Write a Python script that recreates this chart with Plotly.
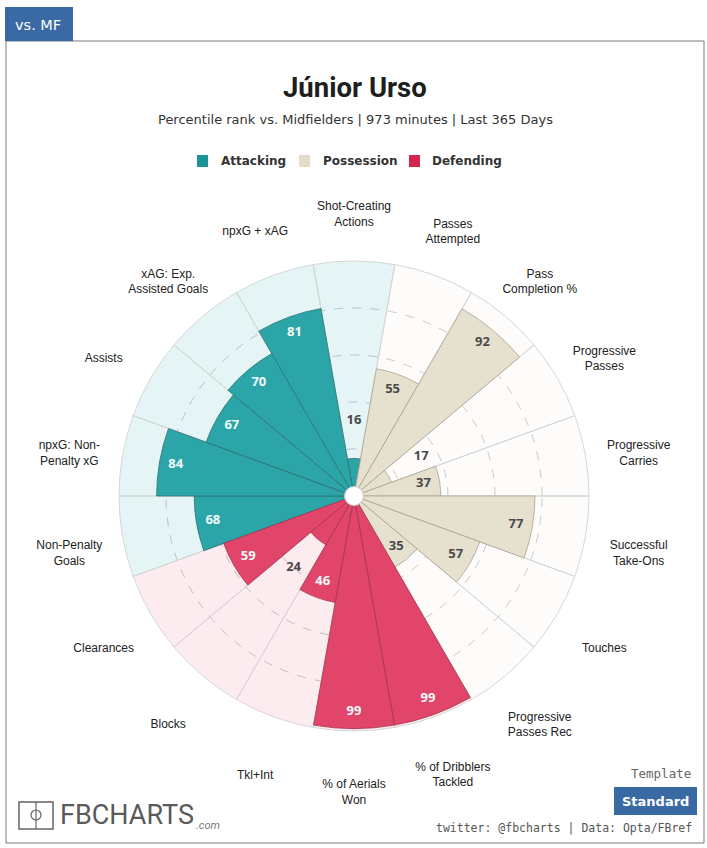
import plotly.graph_objects as go

# ---------------- data ----------------
categories = [
    "Shot-Creating Actions", "Passes Attempted", "Pass Completion %",
    "Progressive Passes", "Progressive Carries", "Successful Take-Ons",
    "Touches", "Progressive Passes Rec", "% of Dribblers Tackled",
    "% of Aerials Won", "Tkl+Int", "Blocks", "Clearances",
    "Non-Penalty Goals", "npxG: Non-Penalty xG", "Assists",
    "xAG: Exp. Assisted Goals", "npxG + xAG",
]
axis_labels = [
    "Shot-Creating<br>Actions", "Passes<br>Attempted", "Pass<br>Completion %",
    "Progressive<br>Passes", "Progressive<br>Carries", "Successful<br>Take-Ons",
    "Touches", "Progressive<br>Passes Rec", "% of Dribblers<br>Tackled",
    "% of Aerials<br>Won", "Tkl+Int", "Blocks", "Clearances",
    "Non-Penalty<br>Goals", "npxG: Non-<br>Penalty xG", "Assists",
    "xAG: Exp.<br>Assisted Goals", "npxG + xAG",
]
percentiles = [16, 55, 92, 17, 37, 77, 57, 35, 99, 99, 46, 24, 59, 68, 84, 67, 70, 81]
groups = (["Attacking"] + ["Possession"] * 7 + ["Defending"] * 5 + ["Attacking"] * 5)
group_order = ["Attacking", "Possession", "Defending"]

# ---------------- styles ----------------
BAR = {"Attacking": "#2ca5a9", "Possession": "#e6e1cf", "Defending": "#e2456a"}
BG = {"Attacking": "rgba(42,163,167,0.12)", "Possession": "rgba(225,218,196,0.07)",
      "Defending": "rgba(226,69,106,0.11)"}
EDGE = {"Attacking": "#2d7376", "Possession": "#a8a28e", "Defending": "#a8344f"}
LEG = {"Attacking": "#1b9498", "Possession": "#e3dccb", "Defending": "#d6264f"}
BLUE = "#3a6aa4"

W, H = 707, 848
CX, CY, R = 354, 496, 235
RMAX = 125  # radial range, leaves room for the category labels
LABEL_DY = 8  # category labels sit slightly below the chart's centre line


def px(x):
    return x / W


def py(y):
    return 1 - y / H


n = len(categories)
step = 360 / n
theta = [i * step for i in range(n)]

fig = go.Figure()

# background wedges
for g in group_order:
    idx = [i for i, gg in enumerate(groups) if gg == g]
    fig.add_trace(go.Barpolar(
        r=[100] * len(idx), theta=[theta[i] for i in idx], width=[step] * len(idx),
        marker=dict(color=BG[g], line=dict(color="#d6d6d6", width=1)),
        hoverinfo="skip", showlegend=False))

# value bars
for g in group_order:
    idx = [i for i, gg in enumerate(groups) if gg == g]
    fig.add_trace(go.Barpolar(
        r=[percentiles[i] for i in idx], theta=[theta[i] for i in idx],
        width=[step] * len(idx), name=g,
        customdata=[categories[i] for i in idx],
        hovertemplate="%{customdata}: %{r}<extra></extra>",
        marker=dict(color=BAR[g], line=dict(color=EDGE[g], width=0.8)),
        showlegend=False))

# value labels
lab_r = [v - 7 if v >= 30 else v + 16 for v in percentiles]
lab_c = ["#f2fafa" if (v >= 30 and g != "Possession") else "#4a4a4a"
         for v, g in zip(percentiles, groups)]
fig.add_trace(go.Scatterpolar(
    r=lab_r, theta=theta, mode="text", text=[str(v) for v in percentiles],
    textfont=dict(family="Open Sans, Arial", size=13, color=lab_c, weight="bold"),
    hoverinfo="skip", showlegend=False))

# centre hole
fig.add_trace(go.Scatterpolar(
    r=[0], theta=[0], mode="markers",
    marker=dict(size=19, color="white", line=dict(color="#c8c8c8", width=1)),
    hoverinfo="skip", showlegend=False, cliponaxis=False))

# category labels (on a twin polar subplot nudged down a few pixels)
fig.add_trace(go.Scatterpolar(
    r=[123] * n, theta=theta, mode="text", text=axis_labels, subplot="polar2",
    textfont=dict(family="Liberation Sans, Arial", size=12, color="#222222"),
    hoverinfo="skip", showlegend=False))

shapes = []
annotations = []


def note(text, x, y, size, color, family="DejaVu Sans", weight="normal",
         xanchor="center"):
    annotations.append(dict(text=text, x=px(x), y=py(y), xref="paper", yref="paper",
                            xanchor=xanchor, yanchor="middle", showarrow=False,
                            font=dict(family=family, size=size, color=color,
                                      weight=weight)))


# frame and tab
shapes.append(dict(type="rect", xref="paper", yref="paper", x0=px(6), x1=px(704),
                   y0=py(843), y1=py(41), line=dict(color="#7a7a7a", width=1)))
shapes.append(dict(type="rect", xref="paper", yref="paper", x0=px(5), x1=px(73),
                   y0=py(41), y1=py(7), fillcolor=BLUE, line=dict(width=0)))
note("vs. MF", 38, 25, 14.5, "white")

# title
note("Júnior Urso", 355, 88, 27.5, "#1e1e1e", family="Roboto", weight="bold")
note("Percentile rank vs. Midfielders | 973 minutes | Last 365 Days", 355, 120, 13,
     "#333333")

# legend
leg_sq = {"Attacking": 197, "Possession": 299, "Defending": 409}
leg_tx = {"Attacking": 219, "Possession": 321, "Defending": 430}
for g in group_order:
    shapes.append(dict(type="rect", xref="paper", yref="paper", x0=px(leg_sq[g]),
                       x1=px(leg_sq[g] + 11), y0=py(167), y1=py(155),
                       fillcolor=LEG[g], line=dict(width=0)))
    note(g, leg_tx[g], 161, 12, "#333333", weight="bold", xanchor="left")

# footer: logo
shapes.append(dict(type="rect", xref="paper", yref="paper", x0=px(19), x1=px(53),
                   y0=py(829), y1=py(802), line=dict(color="#666666", width=1.5)))
shapes.append(dict(type="line", xref="paper", yref="paper", x0=px(36), x1=px(36),
                   y0=py(829), y1=py(802), line=dict(color="#666666", width=1.2)))
shapes.append(dict(type="circle", xref="paper", yref="paper", x0=px(31), x1=px(41),
                   y0=py(820), y1=py(810), line=dict(color="#666666", width=1.2)))
note("FBCHARTS", 58, 815, 27, "#5a5a5a", family="Roboto", xanchor="left")
note("<i>.com</i>", 194, 825, 11, "#777777", family="Roboto", xanchor="left")

# footer: template button & credits
note("Template", 693, 773, 12.5, "#666666", family="DejaVu Sans Mono", xanchor="right")
shapes.append(dict(type="rect", xref="paper", yref="paper", x0=px(614), x1=px(697),
                   y0=py(815), y1=py(787), fillcolor=BLUE, line=dict(width=0)))
note("Standard", 655.5, 801, 13, "white", weight="bold")
note("twitter: @fbcharts | Data: Opta/FBref", 694, 828, 11.5, "#555555",
     family="DejaVu Sans Mono", xanchor="right")

RP = R * RMAX / 100
radial_common = dict(range=[0, RMAX], showticklabels=False, ticks="", showline=False)
angular_common = dict(rotation=90, direction="clockwise", showgrid=False,
                      showticklabels=False, ticks="", showline=False)
fig.update_layout(
    width=W, height=H, margin=dict(l=0, r=0, t=0, b=0),
    paper_bgcolor="white", showlegend=False,
    shapes=shapes, annotations=annotations,
    polar=dict(
        domain=dict(x=[px(CX - RP), px(CX + RP)], y=[py(CY + RP), py(CY - RP)]),
        bgcolor="rgba(0,0,0,0)", barmode="overlay", bargap=0,
        radialaxis=dict(**radial_common, tickvals=[20, 40, 60, 80], gridcolor="#c9c9c9",
                        griddash="dash", gridwidth=1),
        angularaxis=angular_common,
    ),
    polar2=dict(
        domain=dict(x=[px(CX - RP), px(CX + RP)],
                    y=[py(CY + LABEL_DY + RP), py(CY + LABEL_DY - RP)]),
        bgcolor="rgba(0,0,0,0)",
        radialaxis=dict(**radial_common, showgrid=False),
        angularaxis=angular_common,
    ),
)

fig.write_html("out.html", config={"displayModeBar": False},
               post_script="document.body.style.margin='0';")
